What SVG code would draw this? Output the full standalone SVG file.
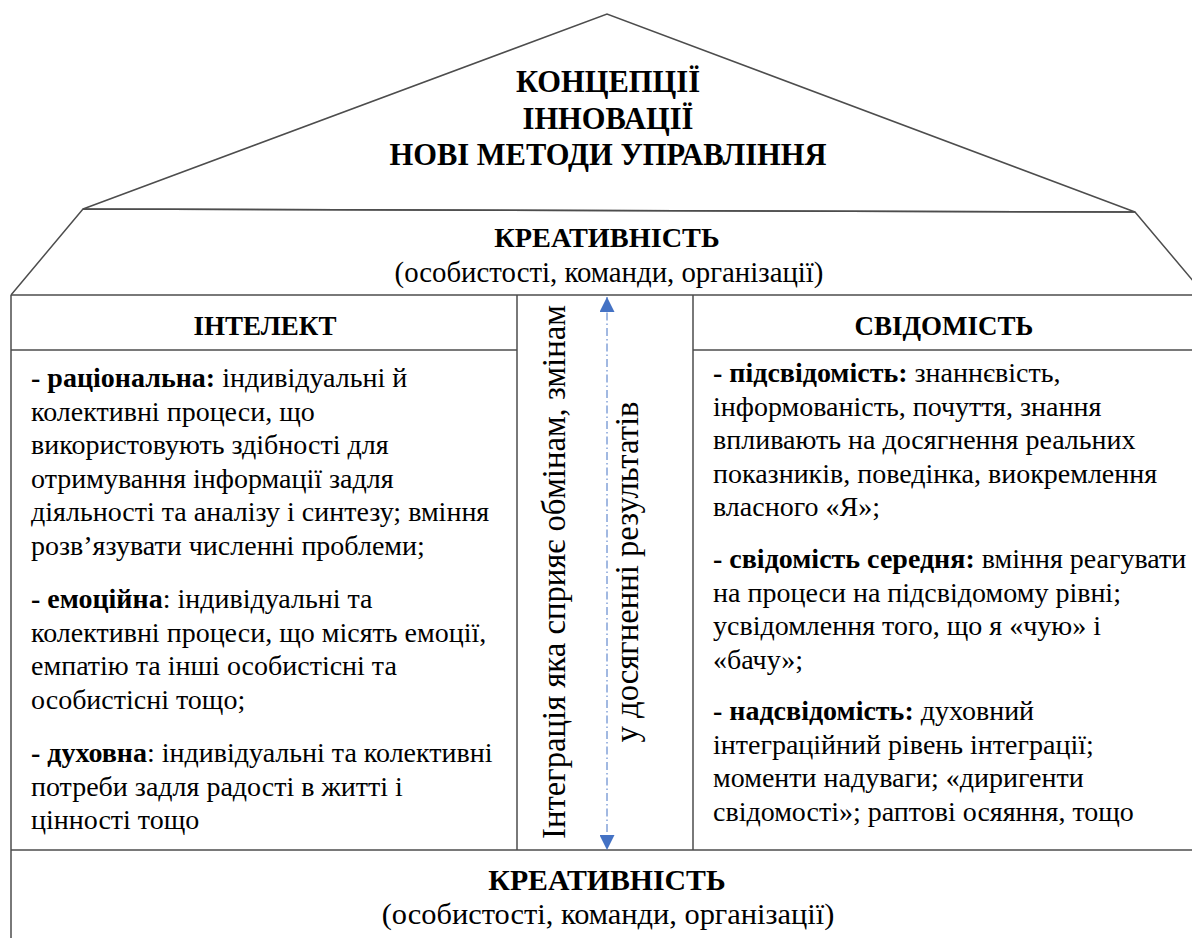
<svg xmlns="http://www.w3.org/2000/svg" width="1192" height="938" viewBox="0 0 1192 938" font-family="'Liberation Serif', 'Times New Roman', Times, 'DejaVu Serif', serif">
<style>
.ln{stroke:#4d4d4d;stroke-width:1.5;fill:none}
text{font-family:'Liberation Serif', 'Times New Roman', Times, 'DejaVu Serif', serif;fill:#000}
.hd{font-size:27px;font-weight:bold;text-anchor:middle}
.roof{font-size:30.5px;font-weight:bold;text-anchor:middle}
.sub{font-size:28.8px;text-anchor:middle}
.bd{font-size:28px}
.b{font-weight:bold}
.rot{font-size:32.7px;text-anchor:middle}
</style>
<defs>
<marker id="ah" viewBox="0 0 15 15" refX="15" refY="7.5" markerWidth="15" markerHeight="15" markerUnits="userSpaceOnUse" orient="auto-start-reverse">
<path d="M0,0 L15,7.5 L0,15 z" fill="#4472c4"/>
</marker>
</defs>
<g id="roof">
<polygon class="ln" points="83,209 607,14 1135,212"/>
<text class="roof" x="608" y="92">КОНЦЕПЦІЇ</text>
<text class="roof" x="608" y="128.5">ІННОВАЦІЇ</text>
<text class="roof" x="608" y="165">НОВІ МЕТОДИ УПРАВЛІННЯ</text>
</g>
<g id="creativity-top">
<polyline class="ln" points="11,295 83,209 1135,212 1205,295"/>
<text class="hd" x="607" y="247" style="font-size:28.3px">КРЕАТИВНІСТЬ</text>
<text class="sub" x="609" y="282">(особистості, команди, організації)</text>
</g>
<g id="frame">
<line class="ln" x1="11" y1="295" x2="1192" y2="295"/>
<line class="ln" x1="11" y1="295" x2="11" y2="938"/>
<line class="ln" x1="11" y1="850" x2="1192" y2="850"/>
</g>
<g id="intellect">
<line class="ln" x1="11" y1="350" x2="517" y2="350"/>
<line class="ln" x1="517" y1="295" x2="517" y2="850"/>
<text class="hd" x="265" y="335">ІНТЕЛЕКТ</text>
<text class="bd" x="31"><tspan x="31" y="387"><tspan class="b">- раціональна:</tspan> індивідуальні й</tspan><tspan x="31" y="420.6">колективні процеси, що</tspan><tspan x="31" y="454.2">використовують здібності для</tspan><tspan x="31" y="487.8">отримування інформації задля</tspan><tspan x="31" y="521.4">діяльності та аналізу і синтезу; вміння</tspan><tspan x="31" y="555">розв’язувати численні проблеми;</tspan><tspan x="31" y="608"><tspan class="b">- емоційна</tspan>: індивідуальні та</tspan><tspan x="31" y="641.6">колективні процеси, що місять емоції,</tspan><tspan x="31" y="675.2">емпатію та інші особистісні та</tspan><tspan x="31" y="708.8">особистісні тощо;</tspan><tspan x="31" y="762"><tspan class="b">- духовна</tspan>: індивідуальні та колективні</tspan><tspan x="31" y="795.6">потреби задля радості в житті і</tspan><tspan x="31" y="829.2">цінності тощо</tspan></text>
</g>
<g id="integration">
<text class="rot" transform="translate(565,572) rotate(-90)">Інтеграція яка сприяє обмінам, змінам</text>
<text class="rot" transform="translate(638,572) rotate(-90)">у досягненні результатів</text>
</g>
<g id="consciousness">
<line class="ln" x1="693" y1="350" x2="1192" y2="350"/>
<line class="ln" x1="693" y1="295" x2="693" y2="850"/>
<text class="hd" x="944" y="335">СВІДОМІСТЬ</text>
<text class="bd" x="713"><tspan x="713" y="382"><tspan class="b">- підсвідомість:</tspan> знаннєвість,</tspan><tspan x="713" y="415.6">інформованість, почуття, знання</tspan><tspan x="713" y="449.2">впливають на досягнення реальних</tspan><tspan x="713" y="482.8">показників, поведінка, виокремлення</tspan><tspan x="713" y="516.4">власного «Я»;</tspan><tspan x="713" y="568"><tspan class="b">- свідомість середня:</tspan> вміння реагувати</tspan><tspan x="713" y="601.6">на процеси на підсвідомому рівні;</tspan><tspan x="713" y="635.2">усвідомлення того, що я «чую» і</tspan><tspan x="713" y="668.8">«бачу»;</tspan><tspan x="713" y="720"><tspan class="b">- надсвідомість:</tspan> духовний</tspan><tspan x="713" y="753.6">інтеграційний рівень інтеграції;</tspan><tspan x="713" y="787.2">моменти надуваги; «диригенти</tspan><tspan x="713" y="820.8">свідомості»; раптові осяяння, тощо</tspan></text>
</g>
<g id="creativity-bottom">
<text class="hd" x="607" y="890" style="font-size:29.8px">КРЕАТИВНІСТЬ</text>
<text class="sub" x="608" y="924" style="font-size:30.4px">(особистості, команди, організації)</text>
</g>
<g id="connectors">
<line x1="607" y1="297" x2="607" y2="850" stroke="#4472c4" stroke-width="1" stroke-dasharray="8,3,1.5,3" marker-start="url(#ah)" marker-end="url(#ah)"/>
</g>
</svg>
